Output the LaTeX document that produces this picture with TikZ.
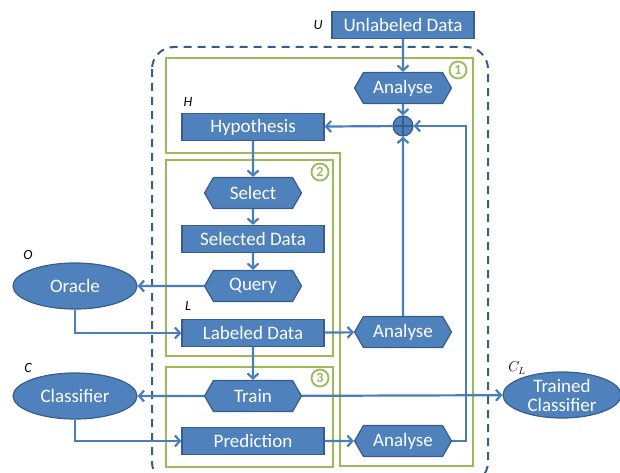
\documentclass[tikz,border=0pt]{standalone}
\usepackage{fontspec}
\setmainfont{Carlito}
\usepackage{amsmath}
\usetikzlibrary{shapes,arrows,arrows.meta,positioning}
\definecolor{boxblue}{HTML}{4F81BD}
\definecolor{boxedge}{HTML}{385D8A}
\definecolor{linkblue}{HTML}{4A7EBB}
\definecolor{stagegreen}{HTML}{9BBB59}
\tikzstyle{datos} = [draw=boxedge, fill=boxblue, text=white, line width=1.2pt, rectangle, minimum width=142pt, minimum height=27pt, inner sep=0pt, font=\fontsize{19}{20}\selectfont]
\tikzstyle{paso} = [draw=boxedge, fill=boxblue, text=white, line width=1.2pt, signal, signal to=east and west, signal pointer angle=120, minimum width=97pt, minimum height=31pt, inner sep=0pt, font=\fontsize{19}{20}\selectfont]
\tikzstyle{agente} = [draw=boxedge, fill=boxblue, text=white, line width=1.2pt, ellipse, minimum width=124pt, minimum height=46pt, inner sep=0pt, align=center, font=\fontsize{19}{19}\selectfont]
\tikzstyle{enlace} = [draw=linkblue, line width=2.2pt, -{Straight Barb[length=5pt,width=11pt]}]
\tikzstyle{etapa} = [draw=stagegreen, line width=2.2pt]
\tikzstyle{numero} = [circle, draw=stagegreen, text=stagegreen, line width=1.8pt, minimum size=17pt, inner sep=0pt, font=\bfseries\fontsize{14}{14}\selectfont]
\tikzstyle{marca} = [font=\itshape\fontsize{14}{14}\selectfont]

\begin{document}
\begin{tikzpicture}[x=1pt,y=-1pt]
	\useasboundingbox (0,0) rectangle (620,473);
	% stages
	\draw[dashed, draw=boxedge, line width=2pt, dash pattern=on 8pt off 6pt, rounded corners=22pt] (152,47) rectangle (488,484);
	\draw[etapa] (166,58) -- (473,58) -- (473,466) -- (340,466) -- (340,153) -- (166,153) -- cycle;
	\draw[etapa] (166,160) rectangle (333,356);
	\draw[etapa] (166,367) rectangle (333,467);
	\node[numero] (uno) at (458,70) {1};
	\node[numero] (dos) at (320,172) {2};
	\node[numero] (tres) at (320,378) {3};
	% nodes
	\node[datos] (unlabeled) at (403,25) {Unlabeled Data};
	\node[paso] (analyse1) at (403,88) {Analyse};
	\node[circle, draw=boxedge, fill=boxblue, line width=1.2pt, minimum size=20pt, inner sep=0pt,
		path picture={\draw[boxedge, line width=1.2pt] (path picture bounding box.north) -- (path picture bounding box.south) (path picture bounding box.west) -- (path picture bounding box.east);}] (sum) at (403,126) {};
	\node[datos] (hypothesis) at (253,127) {Hypothesis};
	\node[paso] (select) at (253,193) {Select};
	\node[datos] (selected) at (253,239) {Selected Data};
	\node[paso] (query) at (253,286) {Query};
	\node[datos] (labeled) at (253,333) {Labeled Data};
	\node[paso] (analyse2) at (403,332) {Analyse};
	\node[paso] (train) at (253,396) {Train};
	\node[datos] (prediction) at (253,441) {Prediction};
	\node[paso] (analyse3) at (403,441) {Analyse};
	\node[agente] (oracle) at (75,286) {Oracle};
	\node[agente] (classifier) at (75,396) {Classifier};
	\node[agente, minimum width=118pt] (trained) at (562,395) {Trained\\Classifier};
	% labels
	\node[marca] (u) at (318,25) {U};
	\node[marca] (h) at (188,102) {H};
	\node[marca] (o) at (28,255) {O};
	\node[marca] (l) at (188,306) {L};
	\node[marca] (c) at (28,368) {C};
	\node[font=\fontsize{14}{14}\selectfont] (cl) at (517,368) {$C_L$};
	% links
	\draw[enlace] (unlabeled) -- (analyse1);
	\draw[enlace] (analyse1) -- (sum);
	\draw[enlace] (sum) -- (hypothesis);
	\draw[enlace] (analyse2) -- (sum);
	\draw[enlace] (analyse3.east) -- ++(14,0) |- (sum);
	\draw[enlace] (hypothesis) -- (select);
	\draw[enlace] (select) -- (selected);
	\draw[enlace] (selected) -- (query);
	\draw[enlace] (query) -- (oracle);
	\draw[enlace] (oracle) |- (labeled);
	\draw[enlace] (labeled) -- (analyse2);
	\draw[enlace] (labeled) -- (train);
	\draw[enlace] (train) -- (classifier);
	\draw[enlace] (train) -- (trained);
	\draw[enlace] (classifier) |- (prediction);
	\draw[enlace] (prediction) -- (analyse3);
\end{tikzpicture}
\end{document}
